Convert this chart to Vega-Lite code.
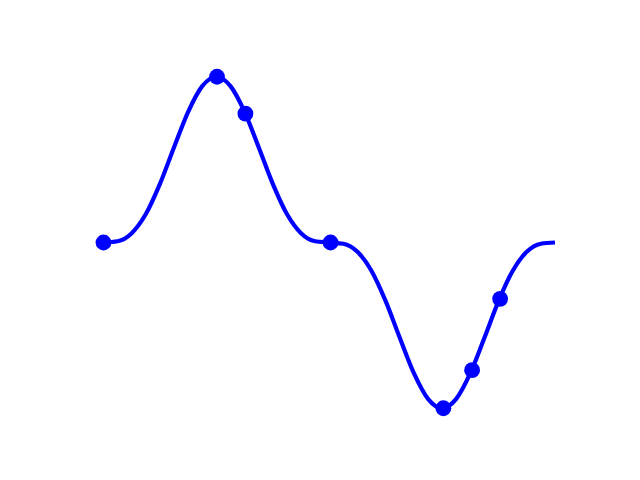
{
  "$schema": "https://vega.github.io/schema/vega-lite/v6.json",
  "autosize": {"type": "none"},
  "width": 496,
  "height": 369,
  "padding": {"left": 80, "top": 58, "right": 64, "bottom": 53},
  "background": "white",
  "config": {"view": {"stroke": null}},
  "datasets": {
    "curve": [
      {"t": 0.0, "y": 0.0},
      {"t": 0.19635, "y": 0.007425},
      {"t": 0.3927, "y": 0.056044},
      {"t": 0.58905, "y": 0.171484},
      {"t": 0.7854, "y": 0.353553},
      {"t": 0.98175, "y": 0.574823},
      {"t": 1.1781, "y": 0.788581},
      {"t": 1.37445, "y": 0.943456},
      {"t": 1.5708, "y": 1.0},
      {"t": 1.76715, "y": 0.943456},
      {"t": 1.9635, "y": 0.788581},
      {"t": 2.15985, "y": 0.574823},
      {"t": 2.3562, "y": 0.353553},
      {"t": 2.55255, "y": 0.171484},
      {"t": 2.7489, "y": 0.056044},
      {"t": 2.94525, "y": 0.007425},
      {"t": 3.14159, "y": 0.0},
      {"t": 3.33794, "y": -0.007425},
      {"t": 3.53429, "y": -0.056044},
      {"t": 3.73064, "y": -0.171484},
      {"t": 3.92699, "y": -0.353553},
      {"t": 4.12334, "y": -0.574823},
      {"t": 4.31969, "y": -0.788581},
      {"t": 4.51604, "y": -0.943456},
      {"t": 4.71239, "y": -1.0},
      {"t": 4.90874, "y": -0.943456},
      {"t": 5.10509, "y": -0.788581},
      {"t": 5.30144, "y": -0.574823},
      {"t": 5.49779, "y": -0.353553},
      {"t": 5.69414, "y": -0.171484},
      {"t": 5.89049, "y": -0.056044},
      {"t": 6.08684, "y": -0.007425},
      {"t": 6.28319, "y": 0.0}
    ],
    "markers": [
      {"t": 0.0, "y": 0.0},
      {"t": 1.58, "y": 1.0},
      {"t": 1.975, "y": 0.777},
      {"t": 3.16, "y": 0.0},
      {"t": 4.73, "y": -1.0},
      {"t": 5.13, "y": -0.77},
      {"t": 5.52, "y": -0.34}
    ]
  },
  "layer": [
    {
      "data": {"name": "curve"},
      "mark": {"type": "line", "color": "#0000ff", "strokeWidth": 4.2, "interpolate": "monotone"},
      "encoding": {
        "x": {"field": "t", "type": "quantitative", "scale": {"domain": [-0.3271, 6.576], "nice": false, "zero": false}, "axis": null},
        "y": {"field": "y", "type": "quantitative", "scale": {"domain": [-1.113, 1.113], "nice": false, "zero": false}, "axis": null}
      }
    },
    {
      "data": {"name": "markers"},
      "mark": {"type": "point", "shape": "circle", "filled": true, "color": "#0000ff", "size": 250, "opacity": 1},
      "encoding": {
        "x": {"field": "t", "type": "quantitative", "scale": {"domain": [-0.3271, 6.576], "nice": false, "zero": false}, "axis": null},
        "y": {"field": "y", "type": "quantitative", "scale": {"domain": [-1.113, 1.113], "nice": false, "zero": false}, "axis": null}
      }
    }
  ]
}
